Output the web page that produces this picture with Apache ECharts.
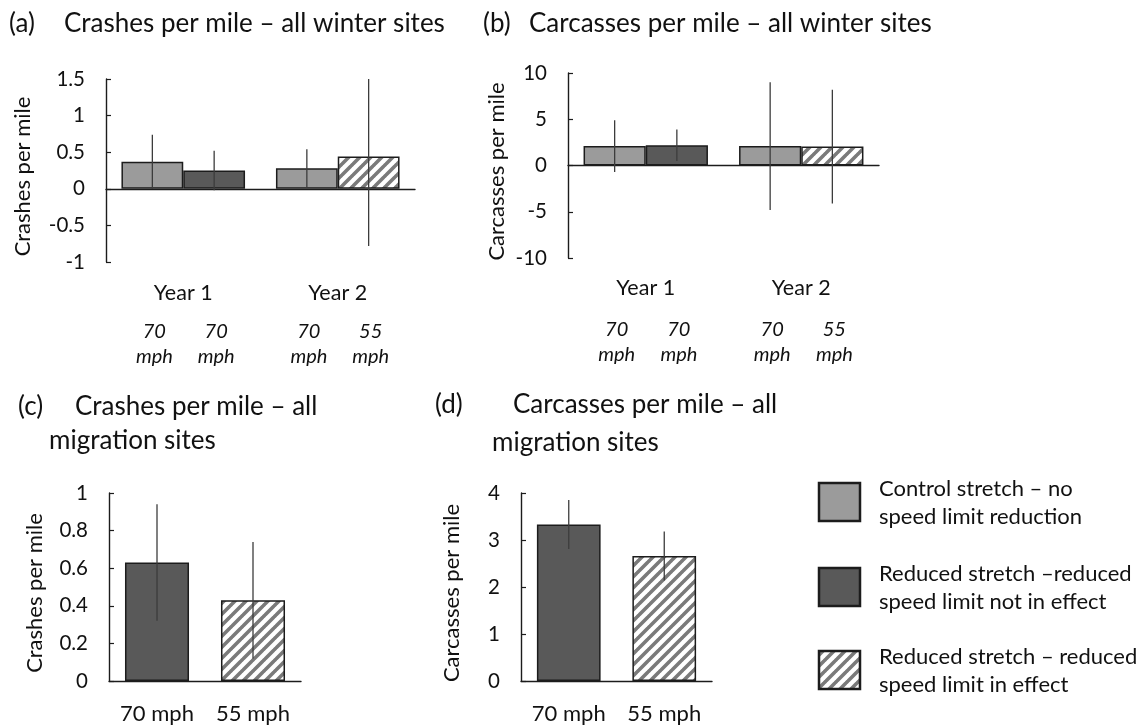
<!DOCTYPE html>
<html><head><meta charset="utf-8">
<script src="https://cdn.jsdelivr.net/npm/echarts@6/dist/echarts.min.js"></script>
<style>html,body{margin:0;padding:0;background:#fff}#c{width:1148px;height:725px}</style>
</head><body><div id="c"></div>
<script>
// ---------------- data ----------------
const yearCategories = ['Year 1', 'Year 2'];
const migrationCategories = ['70 mph', '55 mph'];
const winterSpeedLabels = ['70', '70', '70', '55']; // Y1 control, Y1 reduced, Y2 control, Y2 reduced
// (a) Crashes per mile – all winter sites
const crashesWinterControl = [0.37, 0.28];
const crashesWinterControlErr = [0.37, 0.26];
const crashesWinterReduced = [0.25, 0.44];
const crashesWinterReducedErr = [0.27, 1.22];
// (b) Carcasses per mile – all winter sites
const carcassesWinterControl = [2.1, 2.1];
const carcassesWinterControlErr = [2.8, 6.9];
const carcassesWinterReduced = [2.2, 2.05];
const carcassesWinterReducedErr = [1.7, 6.15];
// (c) Crashes per mile – all migration sites
const crashesMigration = [0.63, 0.43];
const crashesMigrationErr = [0.31, 0.31];
// (d) Carcasses per mile – all migration sites
const carcassesMigration = [3.33, 2.66];
const carcassesMigrationErr = [0.52, 0.52];
// kinds of the bars
const winterControlKinds = ['control', 'control'];
const winterReducedKinds = ['reduced', 'hatch'];
const migrationKinds = ['reduced', 'hatch'];
const legendKinds = ['control', 'reduced', 'hatch'];
const legendLabels = [
  'Control stretch \u2013 no\nspeed limit reduction',
  'Reduced stretch \u2013reduced\nspeed limit not in effect',
  'Reduced stretch \u2013 reduced\nspeed limit in effect'
];

// ---------------- styles ----------------
const FONT = 'Lato';
const INK = '#111';
const BORDER = '#1c1c1c';
function makeHatch() {
  const s = 11;
  const cv = document.createElement('canvas');
  cv.width = s; cv.height = s;
  const g = cv.getContext('2d');
  g.fillStyle = '#ffffff'; g.fillRect(0, 0, s, s);
  g.strokeStyle = '#7a7a7a'; g.lineWidth = 3.6;
  g.beginPath();
  g.moveTo(-1, s + 1); g.lineTo(s + 1, -1);
  g.moveTo(-1, 1); g.lineTo(1, -1);
  g.moveTo(s - 1, s + 1); g.lineTo(s + 1, s - 1);
  g.stroke();
  return cv;
}
const hatch = makeHatch();
const fills = {
  control: '#9b9b9b',
  reduced: '#595959',
  hatch: { image: hatch, repeat: 'repeat' }
};
function barStyle(kind) {
  return { color: fills[kind], borderColor: BORDER, borderWidth: 1.5 };
}

// ---------------- axes ----------------
function yAxis(gi, min, max, interval, name, nameGap) {
  return {
    gridIndex: gi, type: 'value', min, max, interval,
    axisLine: { show: true, lineStyle: { color: BORDER, width: 1.4 } },
    axisTick: { show: true, inside: true, length: 5, lineStyle: { color: BORDER, width: 1.2 } },
    splitLine: { show: false },
    axisLabel: { color: INK, fontSize: 20.5, fontFamily: FONT, margin: 21 },
    name, nameLocation: 'middle', nameGap,
    nameTextStyle: { color: INK, fontSize: 22, fontFamily: FONT, padding: [0, 0, 0, -12] }
  };
}
function zeroXAxis(gi, cats) {
  return {
    gridIndex: gi, type: 'category', data: cats,
    axisLine: { show: true, onZero: true, lineStyle: { color: BORDER, width: 1.4 } },
    axisTick: { show: false }, axisLabel: { show: false }
  };
}
function labelXAxis(gi, cats, margin) {
  return {
    gridIndex: gi, type: 'category', data: cats, position: 'bottom',
    axisLine: { show: false, onZero: false }, axisTick: { show: false },
    axisLabel: { color: INK, fontSize: 21.5, fontFamily: FONT, margin, interval: 0 }
  };
}
function bottomXAxis(gi, cats) {
  return {
    gridIndex: gi, type: 'category', data: cats,
    axisLine: { show: true, onZero: false, lineStyle: { color: BORDER, width: 1.4 } },
    axisTick: { show: false },
    axisLabel: { color: INK, fontSize: 22, fontFamily: FONT, margin: 22, interval: 0, hideOverlap: false }
  };
}

// ---------------- series helpers ----------------
function barSeries(xi, yi, values, kinds, gap) {
  return {
    type: 'bar', xAxisIndex: xi, yAxisIndex: yi, barGap: '0%', barCategoryGap: gap,
    data: values.map((v, i) => ({ value: v, itemStyle: barStyle(kinds[i]) })),
    emphasis: { disabled: true }, z: 2
  };
}
function errSeries(xi, yi, values, errs, slot, barFrac) {
  return {
    type: 'custom', xAxisIndex: xi, yAxisIndex: yi, clip: true, z: 5,
    data: values.map((v, i) => [i, v, errs[i]]),
    renderItem(params, api) {
      const band = api.size([1, 0])[0];
      const cx = api.coord([api.value(0), 0])[0] + slot * band * barFrac;
      const y1 = api.coord([api.value(0), api.value(1) + api.value(2)])[1];
      const y2 = api.coord([api.value(0), api.value(1) - api.value(2)])[1];
      return { type: 'line', shape: { x1: cx, y1, x2: cx, y2 },
        style: { stroke: '#3c3c3c', lineWidth: 1.3 } };
    }
  };
}
function speedLabelSeries(xi, yi, labels, barFrac, offset) {
  return {
    type: 'custom', xAxisIndex: xi, yAxisIndex: yi, clip: false, z: 5, silent: true,
    data: labels.map((t, i) => [Math.floor(i / 2), (i % 2) ? 0.5 : -0.5]),
    renderItem(params, api) {
      const band = api.size([1, 0])[0];
      const cx = api.coord([api.value(0), 0])[0] + api.value(1) * band * barFrac + 2;
      const cs = params.coordSys;
      return { type: 'text', x: cx, y: cs.y + cs.height + offset,
        style: { text: labels[params.dataIndex] + '\nmph', fill: INK, fontSize: 20,
          fontStyle: 'italic', fontFamily: FONT, align: 'center', verticalAlign: 'top', lineHeight: 25 } };
    }
  };
}

// ---------------- graphic (titles, legend) ----------------
function txt(x, y, text, size) {
  return { type: 'text', x, y, style: { text, fill: INK, fontSize: size || 26, fontFamily: FONT,
    align: 'left', verticalAlign: 'middle' } };
}
const graphics = [
  txt(9, 24, '(a)'), txt(64, 24, 'Crashes per mile \u2013 all winter sites'),
  txt(483, 24, '(b)'), txt(529, 24, 'Carcasses per mile \u2013 all winter sites'),
  txt(18, 407, '(c)'), txt(75, 407, 'Crashes per mile \u2013 all'), txt(49, 441, 'migration sites'),
  txt(435, 405, '(d)'), txt(513, 405, 'Carcasses per mile \u2013 all'), txt(492, 443, 'migration sites')
];
const legendTops = [483, 568, 651];
legendKinds.forEach((k, i) => {
  graphics.push({ type: 'rect', shape: { x: 819, y: legendTops[i], width: 41, height: 38 },
    style: { fill: fills[k], stroke: BORDER, lineWidth: 2.5 } });
  graphics.push({ type: 'text', x: 879, y: legendTops[i] + 20,
    style: { text: legendLabels[i], fill: INK, fontSize: 22, fontFamily: FONT,
      align: 'left', verticalAlign: 'middle', lineHeight: 28 } });
});

// ---------------- option ----------------
const option = {
  animation: false,
  backgroundColor: '#fff',
  textStyle: { fontFamily: FONT },
  grid: [
    { left: 106, top: 79, width: 309, height: 183 },
    { left: 568, top: 73, width: 311, height: 185 },
    { left: 109, top: 493, width: 192, height: 191 },
    { left: 521, top: 493, width: 191, height: 191 }
  ],
  xAxis: [
    zeroXAxis(0, yearCategories), labelXAxis(0, yearCategories, 20),
    zeroXAxis(1, yearCategories), labelXAxis(1, yearCategories, 19),
    bottomXAxis(2, migrationCategories), bottomXAxis(3, migrationCategories)
  ],
  yAxis: [
    yAxis(0, -1, 1.5, 0.5, 'Crashes per mile', 72),
    yAxis(1, -10, 10, 5, 'Carcasses per mile', 60),
    yAxis(2, 0, 1, 0.2, 'Crashes per mile', 63),
    yAxis(3, 0, 4, 1, 'Carcasses per mile', 58)
  ],
  graphic: graphics,
  series: [
    barSeries(0, 0, crashesWinterControl, winterControlKinds, '20%'),
    barSeries(0, 0, crashesWinterReduced, winterReducedKinds, '20%'),
    errSeries(0, 0, crashesWinterControl, crashesWinterControlErr, -0.5, 0.4),
    errSeries(0, 0, crashesWinterReduced, crashesWinterReducedErr, 0.5, 0.4),
    speedLabelSeries(0, 0, winterSpeedLabels, 0.4, 57),

    barSeries(2, 1, carcassesWinterControl, winterControlKinds, '20%'),
    barSeries(2, 1, carcassesWinterReduced, winterReducedKinds, '20%'),
    errSeries(2, 1, carcassesWinterControl, carcassesWinterControlErr, -0.5, 0.4),
    errSeries(2, 1, carcassesWinterReduced, carcassesWinterReducedErr, 0.5, 0.4),
    speedLabelSeries(2, 1, winterSpeedLabels, 0.4, 59),

    barSeries(4, 2, crashesMigration, migrationKinds, '33.3%'),
    errSeries(4, 2, crashesMigration, crashesMigrationErr, 0, 0.667),

    barSeries(5, 3, carcassesMigration, migrationKinds, '33.3%'),
    errSeries(5, 3, carcassesMigration, carcassesMigrationErr, 0, 0.667)
  ]
};
const chart = echarts.init(document.getElementById('c'), null, { renderer: 'canvas' });
chart.setOption(option);
</script>
</body></html>
